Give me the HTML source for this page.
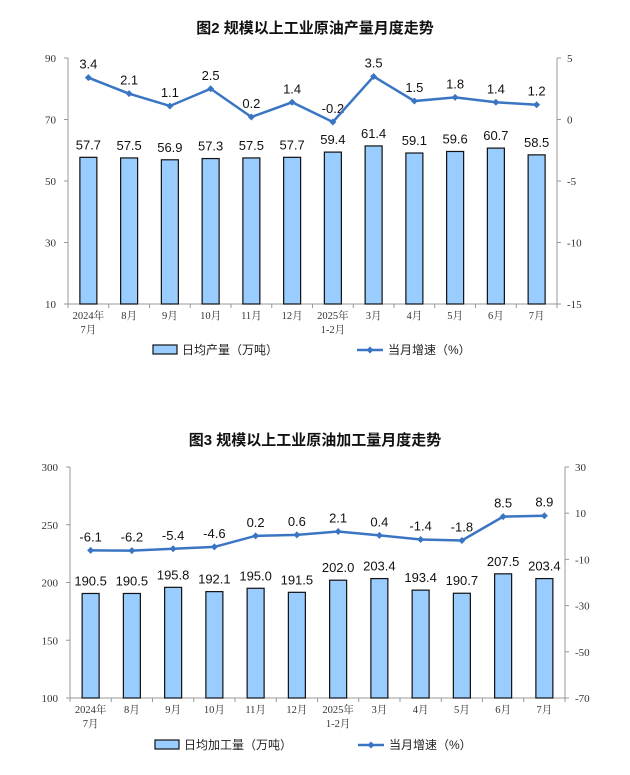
<!DOCTYPE html><html><head><meta charset="utf-8"><style>body{margin:0;background:#fff}svg{display:block}</style></head><body>
<svg id="s" width="630" height="775" xmlns="http://www.w3.org/2000/svg" font-family="Liberation Sans, Noto Sans CJK SC, sans-serif"></svg>
<script>
const s=document.getElementById('s');let h='';
const cats=[['2024年','7月'],['8月'],['9月'],['10月'],['11月'],['12月'],['2025年','1-2月'],['3月'],['4月'],['5月'],['6月'],['7月']];
function chart(o){
 const {L,R,T,B,lmin,lmax,lt,rmin,rmax,rt,bars,line,title,ty,barLbl,lineLbl,leg}=o;
 const w=(R-L)/12;
 h+=`<text x="315" y="${ty}" text-anchor="middle" font-size="15" font-weight="bold" fill="#111">${title}</text>`;
 h+=`<line x1="${L}" y1="${T}" x2="${L}" y2="${B}" stroke="#999"/><line x1="${R}" y1="${T}" x2="${R}" y2="${B}" stroke="#999"/><line x1="${L}" y1="${B}" x2="${R}" y2="${B}" stroke="#999"/>`;
 lt.forEach(v=>{const y=B-(v-lmin)/(lmax-lmin)*(B-T);h+=`<line x1="${L-4}" x2="${L}" y1="${y}" y2="${y}" stroke="#999"/><text x="${L-12}" y="${y+4}" text-anchor="end" font-family="Liberation Serif,serif" font-size="11" fill="#333">${v}</text>`});
 rt.forEach(v=>{const y=B-(v-rmin)/(rmax-rmin)*(B-T);h+=`<line x1="${R}" x2="${R+4}" y1="${y}" y2="${y}" stroke="#999"/><text x="${R+10}" y="${y+4}" font-family="Liberation Serif,serif" font-size="11" fill="#333">${v}</text>`});
 for(let i=0;i<=12;i++){const x=L+i*w;h+=`<line x1="${x}" x2="${x}" y1="${B}" y2="${B+4}" stroke="#999"/>`}
 let pts=[];
 bars.forEach((v,i)=>{const cx=L+w*(i+.5);const y=B-(v-lmin)/(lmax-lmin)*(B-T);
  h+=`<rect x="${cx-8.5}" y="${y}" width="17" height="${B-y}" fill="#99ccff" stroke="#111" stroke-width="1.2"/>`;
  h+=`<text x="${cx}" y="${y-8}" text-anchor="middle" font-size="13" fill="#111">${barLbl[i]}</text>`;
  const ly=B-(line[i]-rmin)/(rmax-rmin)*(B-T);pts.push([cx,ly]);
  h+=`<text x="${cx}" y="${ly-9}" text-anchor="middle" font-size="13" fill="#111">${lineLbl[i]}</text>`;
  cats[i].forEach((t,k)=>h+=`<text x="${cx}" y="${B+15+k*14}" text-anchor="middle" font-family="Liberation Serif,Noto Serif CJK SC,serif" font-size="10.5" fill="#333">${t}</text>`);
 });
 h+=`<polyline points="${pts.map(p=>p.join(',')).join(' ')}" fill="none" stroke="#3a75c4" stroke-width="2.5"/>`;
 pts.forEach(p=>h+=`<path d="M${p[0]-3.5},${p[1]}L${p[0]},${p[1]-3.5}L${p[0]+3.5},${p[1]}L${p[0]},${p[1]+3.5}Z" fill="#3a75c4"/>`);
 const ly=leg[0];
 h+=`<rect x="${leg[1]}" y="${ly-5}" width="24" height="9" fill="#99ccff" stroke="#111" stroke-width="1.2"/><text x="${leg[1]+29}" y="${ly+4}" font-size="12" fill="#222">${o.legName}</text>`;
 h+=`<line x1="${leg[2]}" x2="${leg[2]+26}" y1="${ly}" y2="${ly}" stroke="#3a75c4" stroke-width="2.5"/><path d="M${leg[2]+13-3.5},${ly}l3.5,-3.5l3.5,3.5l-3.5,3.5z" fill="#3a75c4"/><text x="${leg[2]+31}" y="${ly+4}" font-size="12" fill="#222">当月增速（%）</text>`;
}
const b1=[57.7,57.5,56.9,57.3,57.5,57.7,59.4,61.4,59.1,59.6,60.7,58.5];
const l1=[3.4,2.1,1.1,2.5,0.2,1.4,-0.2,3.5,1.5,1.8,1.4,1.2];
chart({L:68,R:557,T:58,B:304,lmin:10,lmax:90,lt:[90,70,50,30,10],rmin:-15,rmax:5,rt:[5,0,-5,-10,-15],bars:b1,line:l1,barLbl:b1.map(v=>v.toFixed(1)),lineLbl:l1.map(v=>v.toFixed(1)),title:'图2  规模以上工业原油产量月度走势',ty:33,leg:[350,153,357],legName:'日均产量（万吨）'});
const b2=[190.5,190.5,195.8,192.1,195.0,191.5,202.0,203.4,193.4,190.7,207.5,203.4];
const l2=[-6.1,-6.2,-5.4,-4.6,0.2,0.6,2.1,0.4,-1.4,-1.8,8.5,8.9];
chart({L:70,R:565,T:467,B:698,lmin:100,lmax:300,lt:[300,250,200,150,100],rmin:-70,rmax:30,rt:[30,10,-10,-30,-50,-70],bars:b2,line:l2,barLbl:b2.map(v=>v.toFixed(1)),lineLbl:l2.map(v=>v.toFixed(1)),title:'图3  规模以上工业原油加工量月度走势',ty:445,leg:[745,155,358],legName:'日均加工量（万吨）'});
s.innerHTML=h;
</script></body></html>
